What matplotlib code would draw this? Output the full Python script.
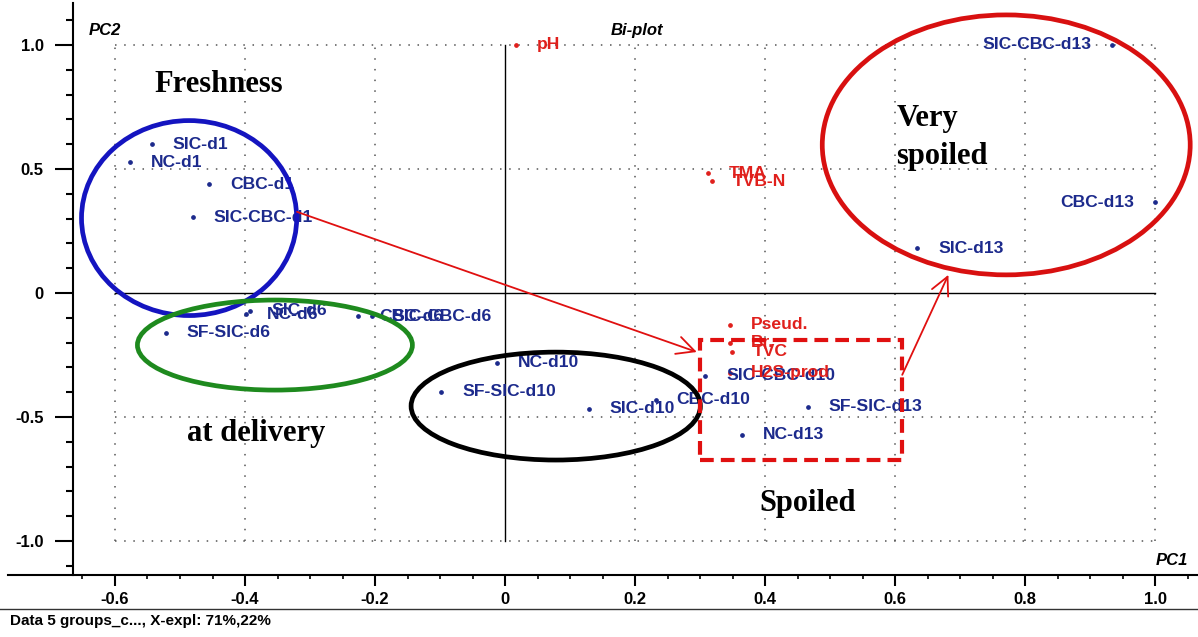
import numpy as np
import matplotlib.pyplot as plt
from matplotlib.patches import Ellipse, Rectangle
from matplotlib.lines import Line2D

# -------------------------------------------------
# Scores (samples) and loadings (variables)
# -------------------------------------------------

sample_names = [
    "SIC-d1", "NC-d1", "CBC-d1", "SIC-CBC-d1",
    "SF-SIC-d6", "NC-d6", "SIC-d6", "CBC-d6", "SIC-CBC-d6",
    "NC-d10", "SF-SIC-d10", "SIC-d10", "CBC-d10", "SIC-CBC-d10",
    "NC-d13", "SF-SIC-d13", "SIC-d13", "CBC-d13", "SIC-CBC-d13",
]
sample_pc1 = [
    -0.543, -0.577, -0.455, -0.480,
    -0.522, -0.398, -0.392, -0.226, -0.205,
    -0.012, -0.098, 0.129, 0.232, 0.308,
    0.365, 0.466, 0.634, 1.000, 0.934,
]
sample_pc2 = [
    0.600, 0.527, 0.439, 0.306,
    -0.161, -0.085, -0.072, -0.093, -0.093,
    -0.282, -0.398, -0.467, -0.431, -0.334,
    -0.571, -0.459, 0.181, 0.366, 1.000,
]
# labels of the last two points sit on the left of their dot
sample_side = ["right"] * 17 + ["left", "left"]

variable_names = ["pH", "TMA", "TVB-N", "Pseud.", "Br.", "TVC", "H2S-prod"]
variable_pc1 = [0.017, 0.312, 0.318, 0.346, 0.346, 0.349, 0.346]
variable_pc2 = [1.000, 0.483, 0.451, -0.129, -0.201, -0.237, -0.322]

x_ticks = [-0.6, -0.4, -0.2, 0.0, 0.2, 0.4, 0.6, 0.8, 1.0]
x_tick_labels = ["-0.6", "-0.4", "-0.2", "0", "0.2", "0.4", "0.6", "0.8", "1.0"]
y_ticks = [-1.0, -0.5, 0.0, 0.5, 1.0]
y_tick_labels = ["-1.0", "-0.5", "0", "0.5", "1.0"]

# -------------------------------------------------
# Colours and fonts
# -------------------------------------------------

sans = "Liberation Sans"
serif = "Liberation Serif"
blue_text = "#1c2a8c"
red_text = "#e0201c"

# -------------------------------------------------
# Figure and axes
# -------------------------------------------------

fig = plt.figure(figsize=(11.98, 6.37), dpi=100)
ax = fig.add_axes([73 / 1198, 62 / 637, 1 - 73 / 1198, 572 / 637])

ax.set_xlim(-0.6646, 1.066)
ax.set_ylim(-1.137, 1.169)

for side in ["top", "right"]:
    ax.spines[side].set_visible(False)
ax.spines["left"].set_linewidth(1.5)
ax.spines["bottom"].set_visible(False)

ax.set_xticks(x_ticks)
ax.set_xticklabels(x_tick_labels, fontfamily=sans, fontweight="bold", fontsize=12)
ax.set_xticks(np.arange(-0.65, 1.06, 0.05), minor=True)
ax.set_yticks(y_ticks)
ax.set_yticklabels(y_tick_labels, fontfamily=sans, fontweight="bold", fontsize=12)
ax.set_yticks(np.arange(-1.1, 1.15, 0.1), minor=True)

ax.tick_params(axis="y", which="major", length=13, width=1.5, pad=8)
ax.tick_params(axis="y", which="minor", length=5, width=1.5)
ax.tick_params(axis="x", which="major", length=8, width=1.5, pad=4)
ax.tick_params(axis="x", which="minor", length=3, width=1.2)

# -------------------------------------------------
# Dotted grid and the two solid zero lines
# -------------------------------------------------

for gx in x_ticks:
    if gx != 0:
        ax.plot([gx, gx], [-1, 1], color="#555555", lw=1.1,
                linestyle=(0, (1, 6)), zorder=1)
for gy in y_ticks:
    if gy != 0:
        ax.plot([-0.6, 1.0], [gy, gy], color="#555555", lw=1.1,
                linestyle=(0, (1, 5)), zorder=1)

ax.plot([0, 0], [-1, 1], color="black", lw=1.0, zorder=1)
ax.plot([-0.6, 1.0], [0, 0], color="black", lw=1.0, zorder=1)

# -------------------------------------------------
# Samples and variables
# -------------------------------------------------

ax.plot(sample_pc1, sample_pc2, "o", color=blue_text, markersize=2.4,
        linestyle="none", zorder=3)
for name, px, py, side in zip(sample_names, sample_pc1, sample_pc2, sample_side):
    dx = 15 if side == "right" else -15
    ax.annotate(name, (px, py), xytext=(dx, 0), textcoords="offset points",
                ha="left" if side == "right" else "right", va="center",
                fontfamily=sans, fontweight="bold", fontsize=12.6,
                color=blue_text, zorder=4)

ax.plot(variable_pc1, variable_pc2, "o", color=red_text, markersize=2.4,
        linestyle="none", zorder=3)
for name, px, py in zip(variable_names, variable_pc1, variable_pc2):
    ax.annotate(name, (px, py), xytext=(15, 0), textcoords="offset points",
                ha="left", va="center", fontfamily=sans, fontweight="bold",
                fontsize=12.6, color=red_text, zorder=4)

# -------------------------------------------------
# Groups: ellipses, box and arrows
# -------------------------------------------------

ax.add_patch(Ellipse((-0.486, 0.302), 0.331, 0.786, fill=False,
                     edgecolor="#1414c0", lw=3.4, zorder=5))
ax.add_patch(Ellipse((-0.354, -0.210), 0.423, 0.363, fill=False,
                     edgecolor="#1e8a1e", lw=3.4, zorder=5))
ax.add_patch(Ellipse((0.078, -0.456), 0.445, 0.435, fill=False,
                     edgecolor="black", lw=3.4, zorder=5))
ax.add_patch(Ellipse((0.771, 0.597), 0.566, 1.048, fill=False,
                     edgecolor="#d81010", lw=3.4, zorder=5))
ax.add_patch(Rectangle((0.300, -0.673), 0.311, 0.483, fill=False,
                       edgecolor="#e01010", lw=3.0,
                       linestyle=(0, (3.3, 1.7)), zorder=5))

arrow_style = dict(arrowstyle="->", color="#e01010", lw=1.3,
                   mutation_scale=32, shrinkA=0, shrinkB=0)
ax.annotate("", xy=(0.295, -0.238), xytext=(-0.320, 0.327),
            arrowprops=arrow_style, zorder=5)
ax.annotate("", xy=(0.682, 0.073), xytext=(0.611, -0.330),
            arrowprops=arrow_style, zorder=5)

# -------------------------------------------------
# Group names and axis captions
# -------------------------------------------------

group_font = dict(fontfamily=serif, fontweight="bold", fontsize=22, color="black")
ax.text(-0.440, 0.840, "Freshness", ha="center", va="center", **group_font)
ax.text(-0.383, -0.566, "at delivery", ha="center", va="center", **group_font)
ax.text(0.465, -0.850, "Spoiled", ha="center", va="center", **group_font)
ax.text(0.602, 0.628, "Very\nspoiled", ha="left", va="center",
        linespacing=1.4, **group_font)

caption_font = dict(fontfamily=sans, fontweight="bold", fontstyle="italic",
                    fontsize=12, color="black")
ax.text(-0.640, 1.06, "PC2", ha="left", va="center", **caption_font)
ax.text(0.162, 1.06, "Bi-plot", ha="left", va="center", **caption_font)
ax.text(1.050, -1.08, "PC1", ha="right", va="center", **caption_font)

# -------------------------------------------------
# Frame lines and footnote
# -------------------------------------------------

fig.add_artist(Line2D([8 / 1198, 1], [62 / 637, 62 / 637], color="black", lw=1.5))
fig.add_artist(Line2D([0, 1], [28 / 637, 28 / 637], color="#333333", lw=1.0))
fig.text(10 / 1198, 16 / 637, "Data 5 groups_c..., X-expl: 71%,22%",
         ha="left", va="center", fontfamily=sans, fontweight="bold", fontsize=11)

plt.savefig("out.png", dpi=100)
